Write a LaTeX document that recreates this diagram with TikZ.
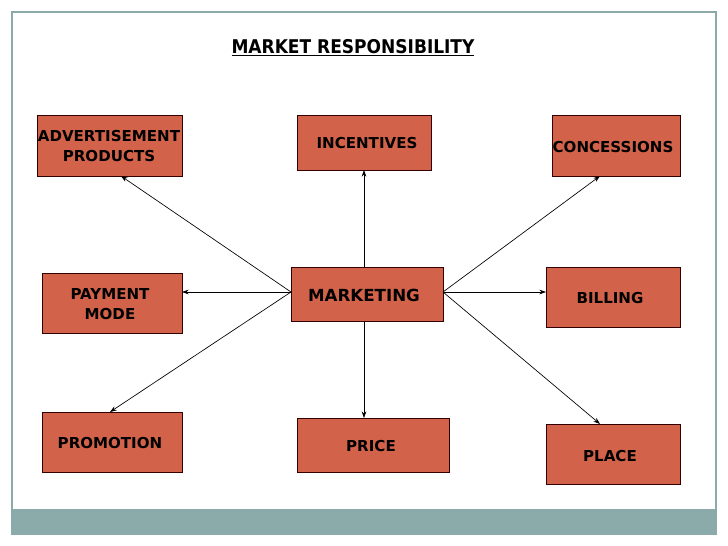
\documentclass[tikz,border=0pt]{standalone}
\usepackage{fontspec}
\setmainfont{DejaVu Sans}
\newfontfamily\condfont{DejaVu Sans Condensed}
\usetikzlibrary{arrows.meta}
\definecolor{boxfill}{RGB}{210,99,74}
\definecolor{frameclr}{RGB}{139,170,170}
\begin{document}
\begin{tikzpicture}[x=0.75pt,y=-0.75pt,
  rbox/.style={draw=black!80!red,line width=0.6pt,fill=boxfill,inner sep=0pt},
  lbl/.style={font=\bfseries\fontsize{11.3}{15.5}\selectfont,align=center,text=black},
  conn/.style={-{Stealth[length=5pt,width=3.5pt]},line width=0.5pt,draw=black}]
\useasboundingbox (0,0) rectangle (728,546);
\fill[white] (0,0) rectangle (728,546);
% frame and bottom bar
\fill[frameclr] (12,509) rectangle (716,534);
\draw[frameclr,line width=0.8pt] (12,12) rectangle (716,534);
% title
\node[font=\condfont\bfseries\fontsize{14.2}{16}\selectfont] (title) at (353,48) {\underline{MARKET RESPONSIBILITY}};
% boxes
\path[rbox] (37,115) rectangle (182,176);
\path[rbox] (297,115) rectangle (431,170);
\path[rbox] (552,115) rectangle (680,176);
\path[rbox] (42,273) rectangle (182,333);
\path[rbox] (291,267) rectangle (443,321);
\path[rbox] (546,267) rectangle (680,327);
\path[rbox] (42,412) rectangle (182,472);
\path[rbox] (297,418) rectangle (449,472);
\path[rbox] (546,424) rectangle (680,484);
% anchors
\coordinate (mW) at (291,292);
\coordinate (mE) at (443,292);
\coordinate (mN) at (364,267);
\coordinate (mS) at (364,321);
\coordinate (adv) at (121,176);
\coordinate (inc) at (364,170);
\coordinate (con) at (600,176);
\coordinate (pay) at (182,292);
\coordinate (bil) at (546,292);
\coordinate (pro) at (110,412);
\coordinate (pri) at (364,418);
\coordinate (pla) at (600,424);
% labels
\node[lbl] (tadv) at (109,146) {ADVERTISEMENT\\PRODUCTS};
\node[lbl] (tinc) at (367,143) {INCENTIVES};
\node[lbl] (tcon) at (613,147) {CONCESSIONS};
\node[lbl] (tpay) at (110,304) {PAYMENT\\MODE};
\node[lbl,font=\bfseries\fontsize{12.5}{15}\selectfont] (tmkt) at (364,295) {MARKETING};
\node[lbl] (tbil) at (610,298) {BILLING};
\node[lbl] (tpro) at (110,443) {PROMOTION};
\node[lbl] (tpri) at (371,446) {PRICE};
\node[lbl] (tpla) at (610,456) {PLACE};
% connectors
\draw[conn] (mW) -- (adv);
\draw[conn] (mW) -- (pay);
\draw[conn] (mW) -- (pro);
\draw[conn] (mN) -- (inc);
\draw[conn] (mS) -- (pri);
\draw[conn] (mE) -- (con);
\draw[conn] (mE) -- (bil);
\draw[conn] (mE) -- (pla);
\end{tikzpicture}
\end{document}
